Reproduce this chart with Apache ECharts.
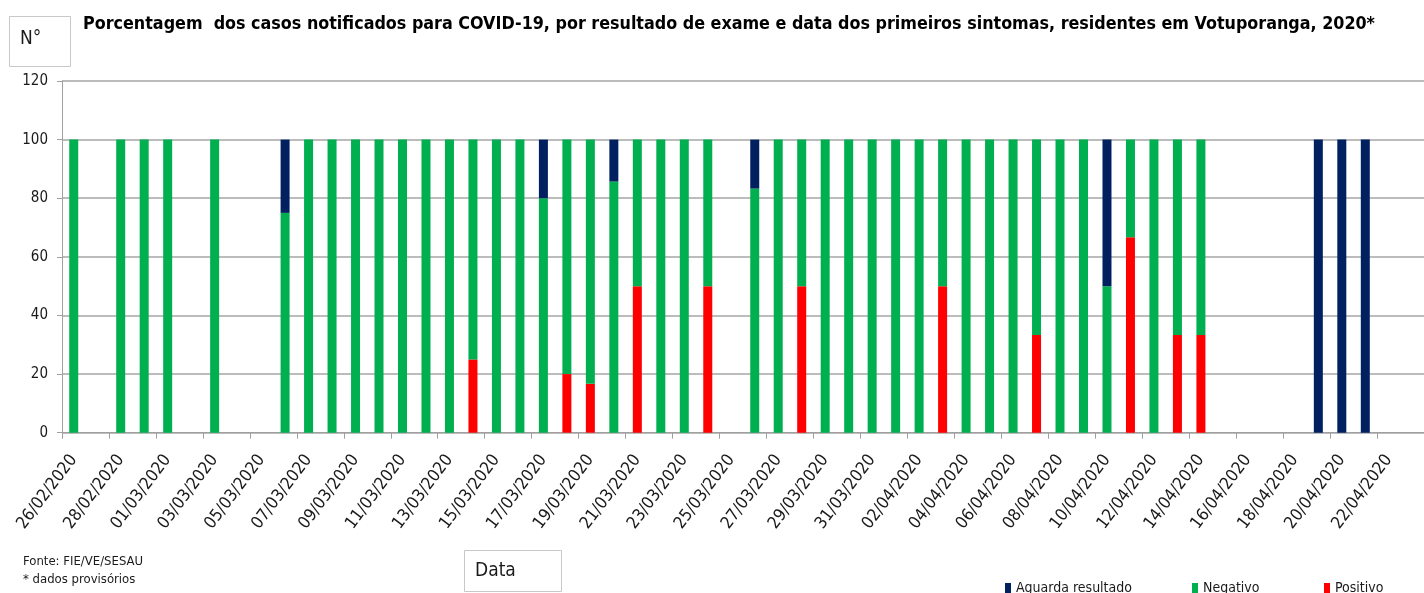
<!DOCTYPE html>
<html>
<head>
<meta charset="utf-8">
<script src="https://cdn.jsdelivr.net/npm/echarts@6/dist/echarts.min.js"></script>
<style>
html,body{margin:0;padding:0;background:#fff;overflow:hidden;}
#chart{width:1424px;height:593px;}
</style>
</head>
<body>
<div id="chart"></div>
<script>
var categories = [
  '26/02/2020','27/02/2020','28/02/2020','29/02/2020',
  '01/03/2020','02/03/2020','03/03/2020','04/03/2020','05/03/2020','06/03/2020','07/03/2020','08/03/2020','09/03/2020','10/03/2020',
  '11/03/2020','12/03/2020','13/03/2020','14/03/2020','15/03/2020','16/03/2020','17/03/2020','18/03/2020','19/03/2020','20/03/2020',
  '21/03/2020','22/03/2020','23/03/2020','24/03/2020','25/03/2020','26/03/2020','27/03/2020','28/03/2020','29/03/2020','30/03/2020','31/03/2020',
  '01/04/2020','02/04/2020','03/04/2020','04/04/2020','05/04/2020','06/04/2020','07/04/2020','08/04/2020','09/04/2020','10/04/2020',
  '11/04/2020','12/04/2020','13/04/2020','14/04/2020','15/04/2020','16/04/2020','17/04/2020','18/04/2020','19/04/2020','20/04/2020',
  '21/04/2020','22/04/2020','23/04/2020'
];
// values in %, null = no cases that day
var positivo = [
  null,null,null,null,
  null,null,null,null,null,null,null,null,null,null,
  null,null,null,25,null,null,null,20,16.7,null,
  50,null,null,50,null,null,null,50,null,null,null,
  null,null,50,null,null,null,33.3,null,null,null,
  66.7,null,33.3,33.3,null,null,null,null,null,null,
  null,null,null
];
var negativo = [
  100,null,100,100,
  100,null,100,null,null,75,100,100,100,100,
  100,100,100,75,100,100,80,80,83.3,85.7,
  50,100,100,50,null,83.3,100,50,100,100,100,
  100,100,50,100,100,100,66.7,100,100,50,
  33.3,100,66.7,66.7,null,null,null,null,null,null,
  null,null,null
];
var aguarda = [
  null,null,null,null,
  null,null,null,null,null,25,null,null,null,null,
  null,null,null,null,null,null,20,null,null,14.3,
  null,null,null,null,null,16.7,null,null,null,null,null,
  null,null,null,null,null,null,null,null,null,50,
  null,null,null,null,null,null,null,null,100,100,
  100,null,null
];
var yTicks = {min:0, max:120, interval:20};
var titleText = 'Porcentagem  dos casos notificados para COVID-19, por resultado de exame e data dos primeiros sintomas, residentes em Votuporanga, 2020*';

var FONT = '"Liberation Sans Narrow", "DejaVu Sans Condensed", "Noto Sans", sans-serif';
var TXT = '#1a1a1a';

// fit title size to the reference's title width
var ctx = document.createElement('canvas').getContext('2d');
ctx.font = 'bold 20px ' + FONT;
var titleSize = Math.min(21, 20 * 1292 / ctx.measureText(titleText).width);

var chart = echarts.init(document.getElementById('chart'), null, {renderer:'canvas'});
var legendBase = {
  orient:'horizontal', top:581, itemWidth:6, itemHeight:10, itemGap:10, padding:0,
  icon:'rect', textStyle:{fontFamily:FONT, fontSize:14, color:TXT}, selectedMode:false
};
chart.setOption({
  animation:false,
  backgroundColor:'#ffffff',
  title:{
    text:titleText,
    left:78, top:24 - titleSize/2 - 5,
    textStyle:{fontFamily:FONT, fontSize:titleSize, fontWeight:'bold', color:'#000'}
  },
  legend:[
    Object.assign({}, legendBase, {left:1005, data:['Aguarda resultado']}),
    Object.assign({}, legendBase, {left:1192, data:['Negativo']}),
    Object.assign({}, legendBase, {left:1324, data:['Positivo']})
  ],
  grid:{left:62, top:81, width:1368, bottom:160.3, containLabel:false},
  xAxis:{
    type:'category', data:categories, boundaryGap:true,
    axisLine:{show:true, lineStyle:{color:'#a0a0a0', width:1}},
    axisTick:{show:true, interval:1, length:6, lineStyle:{color:'#a0a0a0'}},
    axisLabel:{interval:1, rotate:53, margin:24, fontFamily:FONT, fontSize:17, color:TXT},
    splitLine:{show:false}
  },
  yAxis:{
    type:'value', min:yTicks.min, max:yTicks.max, interval:yTicks.interval,
    axisLine:{show:true, lineStyle:{color:'#a0a0a0', width:1}},
    axisTick:{show:true, length:5, lineStyle:{color:'#a0a0a0'}},
    axisLabel:{margin:14, fontFamily:FONT, fontSize:15, color:TXT},
    splitLine:{show:true, lineStyle:{color:'#a6a6a6', width:1.5}}
  },
  series:[
    {name:'Positivo', type:'bar', stack:'total', data:positivo, barWidth:9, itemStyle:{color:'#ff0000'}},
    {name:'Negativo', type:'bar', stack:'total', data:negativo, barWidth:9, itemStyle:{color:'#00b050'}},
    {name:'Aguarda resultado', type:'bar', stack:'total', data:aguarda, barWidth:9, itemStyle:{color:'#002060'}}
  ],
  graphic:[
    {type:'rect', shape:{x:9.5, y:16.5, width:61, height:50}, style:{fill:'#fff', stroke:'#c8c8c8', lineWidth:1}},
    {type:'text', x:20, y:39, style:{text:'N°', fontFamily:FONT, fontSize:19, fill:TXT, verticalAlign:'middle'}},
    {type:'rect', shape:{x:464.5, y:550.5, width:97, height:41}, style:{fill:'#fff', stroke:'#c8c8c8', lineWidth:1}},
    {type:'text', x:475, y:571, style:{text:'Data', fontFamily:FONT, fontSize:19, fill:TXT, verticalAlign:'middle'}},
    {type:'text', x:23, y:562, style:{text:'Fonte: FIE/VE/SESAU', fontFamily:FONT, fontSize:13, fill:TXT, verticalAlign:'middle'}},
    {type:'text', x:23, y:580, style:{text:'* dados provisórios', fontFamily:FONT, fontSize:13, fill:TXT, verticalAlign:'middle'}}
  ]
});
</script>
</body>
</html>
